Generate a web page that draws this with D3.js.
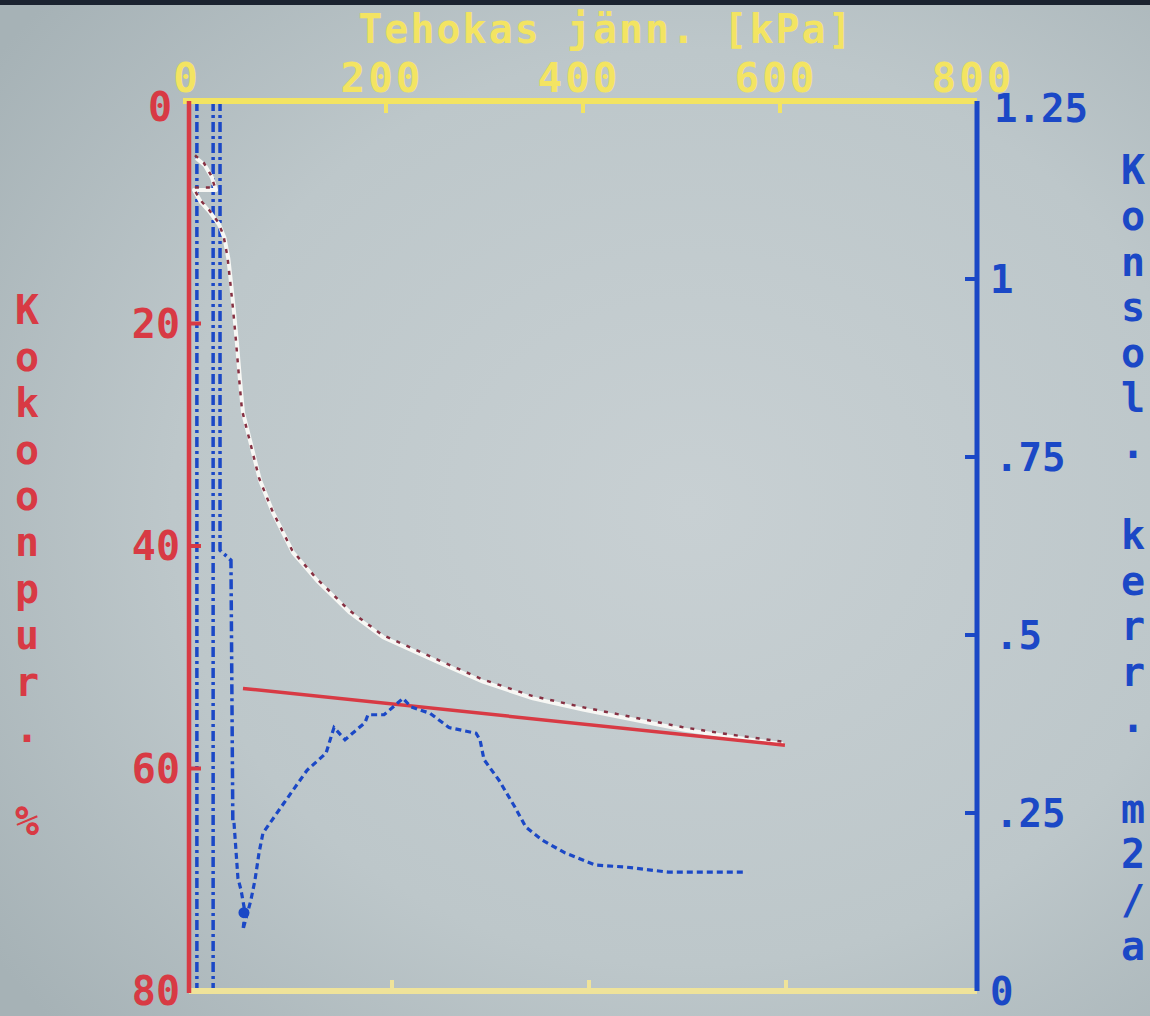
<!DOCTYPE html>
<html><head><meta charset="utf-8">
<script src="https://cdn.jsdelivr.net/npm/d3@7"></script>
<style>
html,body{margin:0;padding:0;background:#b8c2c6;overflow:hidden;}
svg{display:block;}
text{font-family:"DejaVu Sans Mono",monospace;font-weight:bold;}
</style></head><body>
<svg id="chart" width="1150" height="1016"></svg>
<script>
// ---- data ----
const xTitle = "Tehokas jänn. [kPa]";
const leftTitle = "Kokoonpur. %";
const rightTitle = "Konsol. kerr. m2/a";
const stressTicks = [0, 200, 400, 600, 800];
const strainTicks = [0, 20, 40, 60, 80];
const cvTicks = [0, 0.25, 0.5, 0.75, 1, 1.25];
const cvTickLabels = ["0", ".25", ".5", ".75", "1", "1.25"];

// compression curve: [stress kPa, strain %]
const compressionCurve = [
  [7.1,5.1],[16.2,5.8],[23.4,6.9],[27.4,8.0],[5.1,8.0],[12.2,9.1],[21.3,10.0],[30.5,11.1],
  [36.0,12.3],[40.0,14.2],[43.0,16.6],[46.0,19.2],[48.7,21.8],[51.8,25.1],[54.8,28.0],
  [61.9,30.5],[72.1,34.1],[85.3,37.0],[105.6,40.6],[130.0,43.1],[163.5,46.0],[197.0,48.2],
  [254.8,50.5],[298.5,52.2],[349.2,53.7],[400.0,54.7],[450.8,55.6],[501.5,56.5],[552.3,57.2],[603.0,57.8]
];
// straight red line: [stress kPa, strain %]
const regressionLine = [[54.8,52.8],[605,57.9]];
// consolidation coefficient curve: [stress kPa, cv m2/a]
const cvCurve = [
  [45.7,0.236],[49.7,0.158],[52.8,0.142],[56.9,0.110],[54.8,0.086],[62.9,0.128],[67.0,0.156],
  [71.1,0.194],[75.1,0.222],[84.3,0.240],[96.4,0.264],[107.6,0.286],[119.8,0.310],[139.1,0.334],
  [147.2,0.370],[158.4,0.353],[178.7,0.377],[181.7,0.388],[198.0,0.388],[217.3,0.411],[225.4,0.399],
  [244.7,0.390],[264.0,0.370],[291.4,0.362],[295.4,0.353],[299.5,0.325],[314.7,0.296],[331.0,0.258],
  [342.1,0.230],[358.4,0.212],[381.7,0.194],[412.2,0.177],[443.7,0.174],[486.3,0.167],[564.5,0.167]
];
const cvMarker = [[55.8,0.110]];
const cvLineA = [[8,1.25],[8,0]];
const cvLineB = [[24.5,1.25],[24.5,0]];
const cvLineC = [[31.5,1.25],[31.5,0.619],[42.6,0.605],[44.5,0.236],[45.7,0.236]];

// ---- drawing ----
const svg = d3.select("#chart");
const W = 1150, H = 1016;
const YEL = "#f3e462", RED = "#d83a44", BLUE = "#1b48c6", DRED = "#863042";

const defs = svg.append("defs");
const rg = defs.append("radialGradient").attr("id","bg").attr("cx","0.6").attr("cy","0.5").attr("r","0.75");
rg.append("stop").attr("offset","0").attr("stop-color","#c8d0d3");
rg.append("stop").attr("offset","0.6").attr("stop-color","#bdc7ca");
rg.append("stop").attr("offset","1").attr("stop-color","#a6b2b6");
svg.append("rect").attr("width",W).attr("height",H).attr("fill","url(#bg)");
svg.append("rect").attr("width",W).attr("height",5).attr("fill","#1b2330");

const x = d3.scaleLinear().domain([0,800]).range([189,977]);
const yL = d3.scaleLinear().domain([0,80]).range([101,991]);
const yR = d3.scaleLinear().domain([0,1.25]).range([991,101]);

const lineL = d3.line().x(d=>x(d[0])).y(d=>yL(d[1]));
const lineR = d3.line().x(d=>x(d[0])).y(d=>yR(d[1]));

// blue dash-dot lines
[cvLineA, cvLineB, cvLineC].forEach(arr=>{
  svg.append("path").attr("d", lineR(arr)).attr("fill","none")
    .attr("stroke",BLUE).attr("stroke-width",3.5).attr("stroke-dasharray","10,4,3,4");
});

// compression curve: white fitted + dark red measured dashes
svg.append("path").attr("d", lineL(compressionCurve)).attr("fill","none")
  .attr("stroke","#f7f7f4").attr("stroke-width",4).attr("stroke-linejoin","round");
svg.append("path").attr("d", lineL(compressionCurve)).attr("fill","none")
  .attr("transform","translate(-1,-2.5)")
  .attr("stroke",DRED).attr("stroke-width",2.5).attr("stroke-dasharray","4,7");

// regression red line
svg.append("path").attr("d", lineL(regressionLine)).attr("fill","none")
  .attr("stroke",RED).attr("stroke-width",3.5);

// cv curve
svg.append("path").attr("d", lineR(cvCurve)).attr("fill","none")
  .attr("stroke",BLUE).attr("stroke-width",3.2).attr("stroke-dasharray","6,4");
svg.selectAll("circle.mk").data(cvMarker).join("circle").attr("class","mk")
  .attr("cx",d=>x(d[0])).attr("cy",d=>yR(d[1])).attr("r",5.5).attr("fill",BLUE);

// ---- axes ----
// top yellow
svg.append("line").attr("x1",x(0)-6).attr("x2",x(800)).attr("y1",yL(0)).attr("y2",yL(0))
  .attr("stroke",YEL).attr("stroke-width",6);
svg.selectAll("line.tt").data(stressTicks.filter(d=>d>0&&d<800)).join("line").attr("class","tt")
  .attr("x1",d=>x(d)).attr("x2",d=>x(d)).attr("y1",yL(0)).attr("y2",yL(0)+12)
  .attr("stroke",YEL).attr("stroke-width",4);
svg.selectAll("text.tl").data(stressTicks).join("text").attr("class","tl")
  .attr("x",d=>x(d)-(d===0?2:4)).attr("y",92).attr("text-anchor","middle")
  .attr("font-size",41).attr("fill",YEL).attr("letter-spacing",3).text(d=>d);
svg.append("text").attr("x",606).attr("y",43).attr("text-anchor","middle")
  .attr("font-size",40).attr("fill",YEL).attr("letter-spacing",2).text(xTitle);

// bottom yellow
svg.append("line").attr("x1",x(0)).attr("x2",x(800)).attr("y1",yL(80)).attr("y2",yL(80))
  .attr("stroke","#efe39a").attr("stroke-width",6);
svg.selectAll("line.bt").data(stressTicks.filter(d=>d>0&&d<800)).join("line").attr("class","bt")
  .attr("x1",d=>x(d)+6).attr("x2",d=>x(d)+6).attr("y1",yL(80)).attr("y2",yL(80)-11)
  .attr("stroke","#efe39a").attr("stroke-width",4);

// left red axis
svg.append("line").attr("x1",x(0)).attr("x2",x(0)).attr("y1",yL(0)).attr("y2",yL(80)+2)
  .attr("stroke",RED).attr("stroke-width",4.5);
svg.selectAll("line.lt").data(strainTicks.filter(d=>d>0&&d<80)).join("line").attr("class","lt")
  .attr("x1",x(0)).attr("x2",x(0)+12).attr("y1",d=>yL(d)).attr("y2",d=>yL(d))
  .attr("stroke",RED).attr("stroke-width",4);
svg.selectAll("text.ll").data(strainTicks).join("text").attr("class","ll")
  .attr("x",d=>d===0?172:180).attr("y",d=>yL(d)+(d===0?6:0)).attr("dy","0.36em").attr("text-anchor","end")
  .attr("font-size",40).attr("fill",RED).text(d=>d);
svg.selectAll("text.lc").data(leftTitle.split("")).join("text").attr("class","lc")
  .attr("x",27).attr("y",(d,i)=>310+i*46.4).attr("dy","0.36em").attr("text-anchor","middle")
  .attr("font-size",40).attr("fill",RED).text(d=>d);

// right blue axis
svg.append("line").attr("x1",x(800)).attr("x2",x(800)).attr("y1",yR(1.25)).attr("y2",yR(0))
  .attr("stroke",BLUE).attr("stroke-width",5);
svg.selectAll("line.rt").data(cvTicks.filter(d=>d>0&&d<1.25)).join("line").attr("class","rt")
  .attr("x1",x(800)).attr("x2",x(800)-12).attr("y1",d=>yR(d)).attr("y2",d=>yR(d))
  .attr("stroke",BLUE).attr("stroke-width",4);
svg.selectAll("text.rl").data(cvTicks).join("text").attr("class","rl")
  .attr("x",d=>d===1.25?994:(d===0||d===1?990:995)).attr("y",d=>yR(d)+(d===1.25?7:0)).attr("dy","0.36em")
  .attr("text-anchor","start").attr("font-size",39).attr("fill",BLUE)
  .text((d,i)=>cvTickLabels[i]);
svg.selectAll("text.rc").data(rightTitle.split("")).join("text").attr("class","rc")
  .attr("x",1133).attr("y",(d,i)=>170+i*45.6).attr("dy","0.36em").attr("text-anchor","middle")
  .attr("font-size",40).attr("fill",BLUE).text(d=>d);
</script>
</body></html>
